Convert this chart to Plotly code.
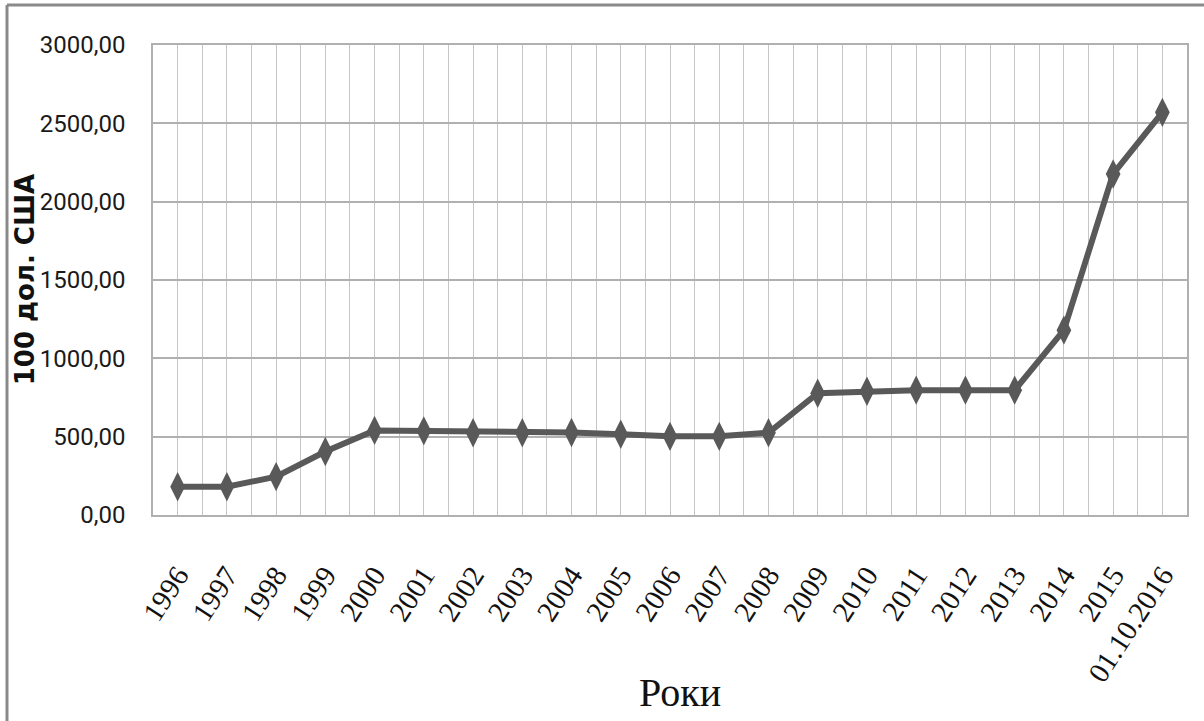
import plotly.graph_objects as go

# Categories along the x axis
periods = ["1996", "1997", "1998", "1999", "2000", "2001", "2002", "2003",
           "2004", "2005", "2006", "2007", "2008", "2009", "2010", "2011",
           "2012", "2013", "2014", "2015", "01.10.2016"]

# Values (100 дол. США)
values = [180, 180, 245, 405, 540, 537, 525, 525, 527, 515, 502, 502, 525,
          777, 790, 797, 797, 797, 1180, 2177, 2570]

y_ticks = [0, 500, 1000, 1500, 2000, 2500, 3000]

positions = list(range(len(periods)))

LINE_GREY = "#595959"
GRID_H = "#b0b0b0"
GRID_V = "#c6c6c6"

fig = go.Figure()
fig.add_trace(go.Scatter(
    x=positions,
    y=values,
    mode="lines+markers",
    line=dict(color=LINE_GREY, width=6),
    marker=dict(symbol="diamond-tall", size=21, color=LINE_GREY),
    showlegend=False,
    hoverinfo="skip",
))

fig.update_layout(
    width=1204,
    height=721,
    margin=dict(l=153, r=17, t=45, b=206),
    paper_bgcolor="white",
    plot_bgcolor="white",
    separators=", ",
    xaxis=dict(
        range=[-0.5, len(periods) - 0.5],
        tickmode="array",
        tickvals=positions,
        ticktext=periods,
        tickangle=-57,
        ticks="",
        ticklabelstandoff=30,
        tickfont=dict(family="Liberation Serif, Times New Roman, serif",
                      size=29, color="#111111"),
        showgrid=True,
        gridcolor=GRID_V,
        gridwidth=1,
        minor=dict(tickmode="linear", tick0=-0.5, dtick=1,
                   showgrid=True, gridcolor=GRID_V, gridwidth=1),
        showline=True,
        linecolor=GRID_H,
        linewidth=1.5,
        mirror=True,
        zeroline=False,
        automargin=False,
        fixedrange=True,
    ),
    yaxis=dict(
        range=[0, 3000],
        tickmode="array",
        tickvals=y_ticks,
        tickformat=".2f",
        ticks="",
        ticklabelstandoff=21,
        tickfont=dict(family="Roboto, sans-serif", size=24, color="#1a1a1a"),
        showgrid=True,
        gridcolor=GRID_H,
        gridwidth=1.5,
        showline=True,
        linecolor=GRID_H,
        linewidth=1.5,
        mirror=True,
        zeroline=False,
        automargin=False,
        fixedrange=True,
    ),
    annotations=[
        dict(
            text="<b>100 дол. США</b>",
            xref="paper", yref="paper",
            x=-0.1235, y=0.5,
            xanchor="center", yanchor="middle",
            textangle=-90,
            showarrow=False,
            font=dict(family="DejaVu Sans, Verdana, sans-serif", size=26,
                      color="#111111"),
        ),
        dict(
            text="Роки",
            xref="paper", yref="paper",
            x=0.51, y=-0.377,
            xanchor="center", yanchor="middle",
            showarrow=False,
            font=dict(family="Liberation Serif, Times New Roman, serif",
                      size=40, color="#111111"),
        ),
    ],
    shapes=[
        # outer frame (top and left edges)
        dict(type="line", xref="paper", yref="paper",
             x0=-0.1412, x1=1.02, y0=1.085, y1=1.085,
             line=dict(color="#8a8a8a", width=3)),
        dict(type="line", xref="paper", yref="paper",
             x0=-0.1412, x1=-0.1412, y0=1.085, y1=-0.44,
             line=dict(color="#8a8a8a", width=3)),
    ],
)

fig.write_html("out.html")
